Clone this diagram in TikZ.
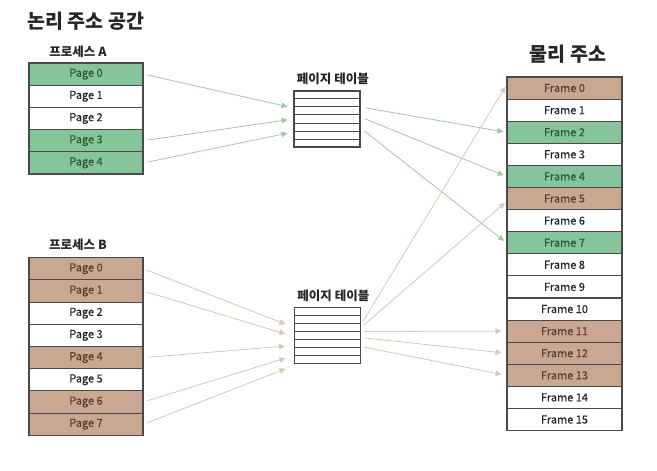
\documentclass[tikz,border=0pt]{standalone}
\usepackage{fontspec}
\setmainfont{Noto Sans CJK KR}
\newfontfamily\cellfont{Noto Sans CJK KR}[FakeBold=0.4]
\usetikzlibrary{arrows.meta,calc}
\definecolor{cgreen}{HTML}{86C59B}
\definecolor{cbrown}{HTML}{C8A890}
\definecolor{tgreen}{HTML}{2C5A38}
\definecolor{tbrown}{HTML}{5A4030}
\definecolor{agreen}{HTML}{A2C8A4}
\definecolor{abrown}{HTML}{DCC6B6}
\definecolor{bord}{HTML}{4A4A4A}
\tikzset{
  cell/.style={draw=bord, line width=1.1pt, minimum width=114pt, minimum height=22.2pt, inner sep=0pt, font=\cellfont\fontsize{11}{12}\selectfont, text=black!85},
  gcell/.style={cell, fill=cgreen, text=tgreen},
  bcell/.style={cell, fill=cbrown, text=tbrown},
  fcell/.style={cell, minimum width=115pt, minimum height=22.1pt},
  ptable/.style={draw=bord, line width=1.1pt, minimum width=66pt, minimum height=56pt, inner sep=0pt},
  title/.style={font=\bfseries\fontsize{19.5}{21}\selectfont, text=black!85},
  sub/.style={font=\bfseries\fontsize{12.5}{14}\selectfont, text=black!85},
  garrow/.style={draw=agreen, line width=0.8pt, -{Triangle[length=6pt,width=5.5pt]}},
  barrow/.style={draw=abrown, line width=0.8pt, -{Triangle[length=6pt,width=5.5pt]}},
}
\begin{document}
\begin{tikzpicture}[x=1pt,y=-1pt]
\useasboundingbox (0,0) rectangle (657,471);
% titles
\node[title, anchor=west] (tl) at (24,21) {논리 주소 공간};
\node[title] (tp) at (568,54) {물리 주소};
\node[sub] (la) at (78,52) {프로세스 A};
\node[sub] (lb) at (78,245) {프로세스 B};
% process A
\foreach \i/\s in {0/gcell,1/cell,2/cell,3/gcell,4/gcell}{
  \node[\s] (A\i) at (86,74.1+22.2*\i) {Page \i};
}
% process B
\foreach \i/\s in {0/bcell,1/bcell,2/cell,3/cell,4/bcell,5/cell,6/bcell,7/bcell}{
  \node[\s] (B\i) at (86,268.8+22.2*\i) {Page \i};
}
% physical frames
\foreach \i/\s in {0/bcell,1/cell,2/gcell,3/cell,4/gcell,5/bcell,6/cell,7/gcell,8/cell,9/cell,10/cell,11/bcell,12/bcell,13/bcell,14/cell,15/cell}{
  \node[fcell,\s,minimum width=115pt,minimum height=22.1pt] (F\i) at (564.5,88.05+22.1*\i) {Frame \i};
}
% page tables
\node[ptable] (TA) at (327,119) {};
\node[ptable] (TB) at (327.5,335.5) {};
\foreach \t in {TA,TB}{
  \foreach \k in {1,...,6}{
    \draw[bord, line width=1.1pt] ($(\t.north west)!\k/7!(\t.south west)$) -- ($(\t.north east)!\k/7!(\t.south east)$);
  }
}
\node[sub, anchor=south west] (lta) at ([yshift=2pt]TA.north west) {페이지 테이블};
\node[sub, anchor=south west] (ltb) at ([yshift=2pt]TB.north west) {페이지 테이블};
% A -> table A
\draw[garrow, shorten <=4pt, shorten >=6pt] (A0.east) -- ([yshift=11pt]TA.west);
\draw[garrow, shorten <=4pt, shorten >=6pt] (A3.east) -- ([yshift=0pt]TA.west);
\draw[garrow, shorten <=4pt, shorten >=6pt] (A4.east) -- ([yshift=-13pt]TA.west);
% table A -> frames
\draw[garrow, shorten <=5pt, shorten >=3pt] ([yshift=12pt]TA.east) -- (F2.west);
\draw[garrow, shorten <=5pt, shorten >=3pt] ([yshift=2pt]TA.east) -- (F4.west);
\draw[garrow, shorten <=5pt, shorten >=3pt] ([yshift=-9pt]TA.east) -- (F7.west);
% B -> table B
\draw[barrow, shorten <=4pt, shorten >=9pt] (B0.east) -- ([yshift=8pt]TB.west);
\draw[barrow, shorten <=4pt, shorten >=9pt] (B1.east) -- ([yshift=-1pt]TB.west);
\draw[barrow, shorten <=4pt, shorten >=9pt] (B4.east) -- ([yshift=-10pt]TB.west);
\draw[barrow, shorten <=4pt, shorten >=9pt] (B6.east) -- ([yshift=-20pt]TB.west);
\draw[barrow, shorten <=4pt, shorten >=9pt] (B7.east) -- ([yshift=-30pt]TB.west);
% table B -> frames
\draw[barrow, shorten <=3pt, shorten >=2pt] ([yshift=11pt]TB.east) -- ([yshift=3pt]F0.west);
\draw[barrow, shorten <=3pt, shorten >=2pt] ([yshift=8pt]TB.east) -- ([yshift=-3pt]F5.west);
\draw[barrow, shorten <=3pt, shorten >=5pt] ([yshift=4pt]TB.east) -- (F11.west);
\draw[barrow, shorten <=3pt, shorten >=5pt] ([yshift=-2pt]TB.east) -- (F12.west);
\draw[barrow, shorten <=3pt, shorten >=5pt] ([yshift=-11pt]TB.east) -- (F13.west);
\end{tikzpicture}
\end{document}
